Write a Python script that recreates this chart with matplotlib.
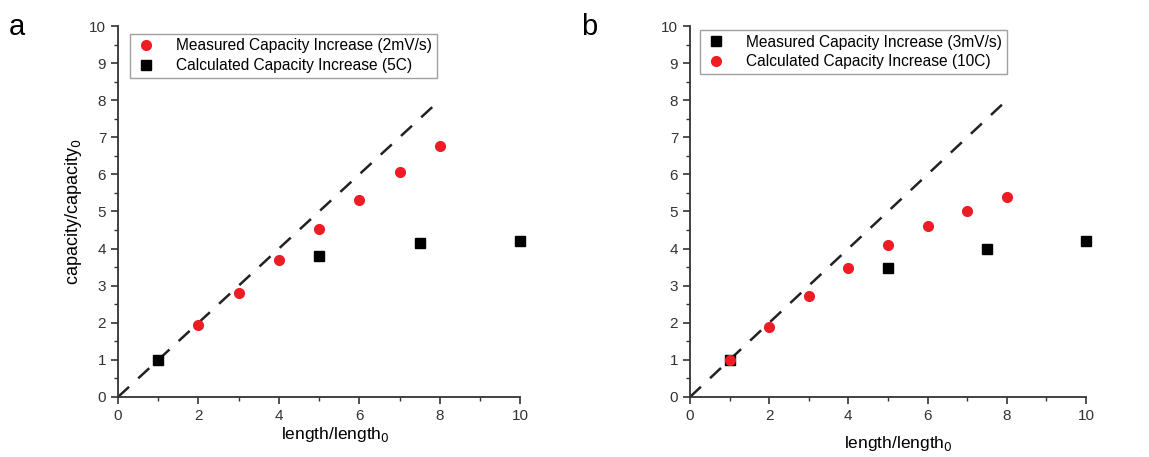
import matplotlib
matplotlib.use("Agg")
import matplotlib.pyplot as plt
from matplotlib.ticker import MultipleLocator

plt.rcParams['font.family'] = ['Liberation Sans', 'DejaVu Sans']

# Panel a
a_red_x = [1, 2, 3, 4, 5, 6, 7, 8]
a_red_y = [1.0, 1.93, 2.8, 3.7, 4.52, 5.32, 6.06, 6.77]
a_blk_x = [1, 5, 7.5, 10]
a_blk_y = [1.0, 3.8, 4.15, 4.2]
a_line_x = [0, 8]
a_line_y = [0, 8]

# Panel b
b_red_x = [1, 2, 3, 4, 5, 6, 7, 8]
b_red_y = [1.0, 1.9, 2.72, 3.48, 4.1, 4.6, 5.0, 5.4]
b_blk_x = [1, 5, 7.5, 10]
b_blk_y = [1.0, 3.48, 3.98, 4.2]
b_line_x = [0, 7.9]
b_line_y = [0, 7.9]

RED = '#ee1c24'

fig = plt.figure(figsize=(11.49, 4.57), dpi=100)
axa = fig.add_axes([0.1027, 0.1313, 0.350, 0.8118])
axb = fig.add_axes([0.6005, 0.1313, 0.3446, 0.8118])

def style(ax):
    ax.set_xlim(0, 10)
    ax.set_ylim(0, 10)
    for s in ['top', 'right']:
        ax.spines[s].set_visible(False)
    for s in ['left', 'bottom']:
        ax.spines[s].set_linewidth(1.3)
        ax.spines[s].set_color('#333333')
    ax.xaxis.set_major_locator(MultipleLocator(2))
    ax.xaxis.set_minor_locator(MultipleLocator(1))
    ax.yaxis.set_major_locator(MultipleLocator(1))
    ax.yaxis.set_minor_locator(MultipleLocator(0.5))
    ax.tick_params(which='major', direction='out', length=5, width=1.2, labelsize=11, colors='#333333')
    ax.tick_params(which='minor', direction='out', length=3, width=1.0, colors='#333333')

# Panel a
style(axa)
axa.plot(a_line_x, a_line_y, ls=(0, (6, 5)), color='#222222', lw=1.8, zorder=2)
axa.plot(a_red_x, a_red_y, 'o', color=RED, ms=7, ls='none', label='Measured Capacity Increase (2mV/s)', clip_on=False, zorder=3)
axa.plot(a_blk_x, a_blk_y, 's', color='black', ms=6.5, ls='none', label='Calculated Capacity Increase (5C)', clip_on=False, zorder=4)
axa.set_xlabel('length/length$_0$', fontsize=12.5, labelpad=2)
axa.xaxis.set_label_coords(0.54, -0.075)
axa.set_ylabel('capacity/capacity$_0$', fontsize=13, labelpad=4)
la = axa.legend(loc='upper left', bbox_to_anchor=(0.01, 1.0), fontsize=11.2, frameon=True, fancybox=False,
                edgecolor='#888888', handletextpad=1.2, borderpad=0.3, labelspacing=0.3, handlelength=1.5)
la.get_frame().set_linewidth(1.0)

# Panel b
style(axb)
axb.plot(b_line_x, b_line_y, ls=(0, (6, 5)), color='#222222', lw=1.8, zorder=2)
axb.plot(b_blk_x, b_blk_y, 's', color='black', ms=6.5, ls='none', label='Measured Capacity Increase (3mV/s)', clip_on=False, zorder=3)
axb.plot(b_red_x, b_red_y, 'o', color=RED, ms=7, ls='none', label='Calculated Capacity Increase (10C)', clip_on=False, zorder=4)
axb.set_xlabel('length/length$_0$', fontsize=12.5, labelpad=11)
axb.xaxis.set_label_coords(0.525, -0.1)
lb = axb.legend(loc='upper left', bbox_to_anchor=(0.005, 1.01), fontsize=11.2, frameon=True, fancybox=False,
                edgecolor='#888888', handletextpad=1.2, borderpad=0.3, labelspacing=0.3, handlelength=1.5)
lb.get_frame().set_linewidth(1.0)

fig.text(0.008, 0.94, 'a', fontsize=21, va='center', ha='left')
fig.text(0.506, 0.94, 'b', fontsize=21, va='center', ha='left')

fig.savefig('out.png', dpi=100)
